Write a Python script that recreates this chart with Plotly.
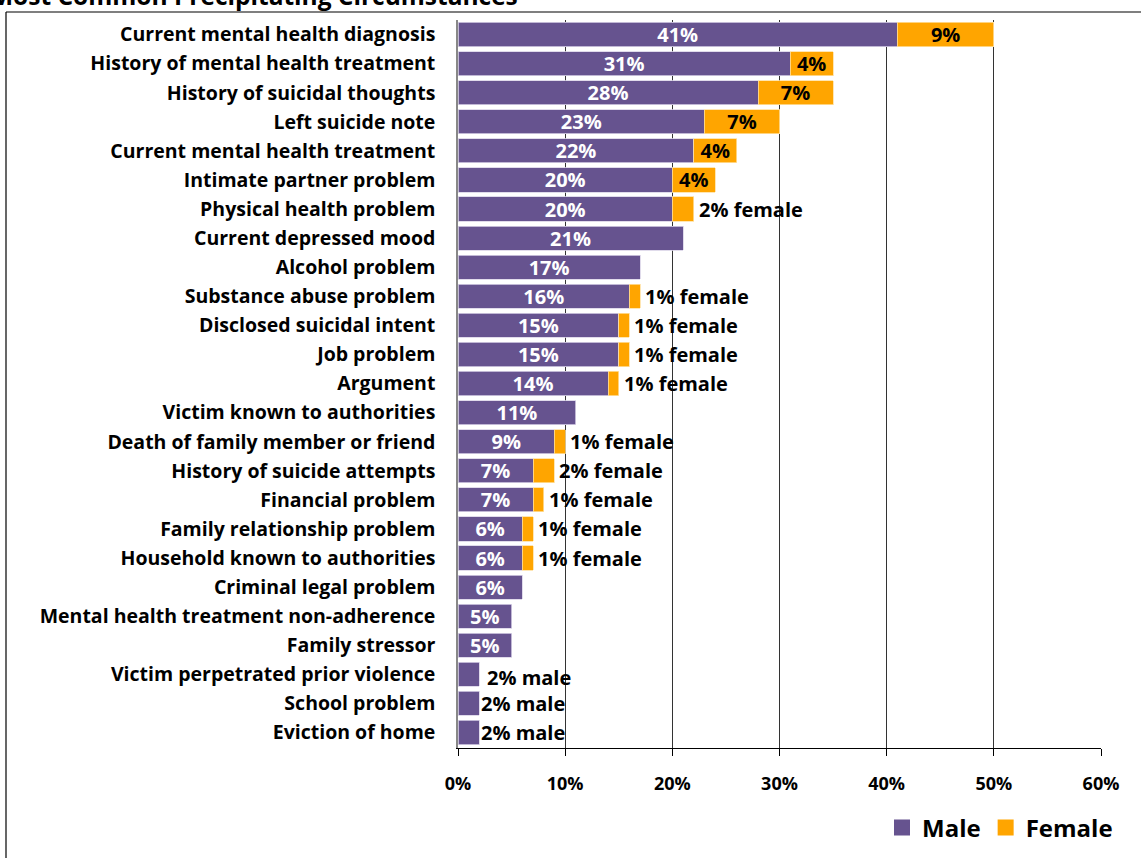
import plotly.graph_objects as go

categories = [
    "Current mental health diagnosis", "History of mental health treatment",
    "History of suicidal thoughts", "Left suicide note",
    "Current mental health treatment", "Intimate partner problem",
    "Physical health problem", "Current depressed mood", "Alcohol problem",
    "Substance abuse problem", "Disclosed suicidal intent", "Job problem",
    "Argument", "Victim known to authorities",
    "Death of family member or friend", "History of suicide attempts",
    "Financial problem", "Family relationship problem",
    "Household known to authorities", "Criminal legal problem",
    "Mental health treatment non-adherence", "Family stressor",
    "Victim perpetrated prior violence", "School problem", "Eviction of home",
]
male = [41, 31, 28, 23, 22, 20, 20, 21, 17, 16, 15, 15, 14, 11, 9, 7, 7, 6, 6, 6, 5, 5, 2, 2, 2]
female = [9, 4, 7, 7, 4, 4, 2, 0, 0, 1, 1, 1, 1, 0, 1, 2, 1, 1, 1, 0, 0, 0, 0, 0, 0]
# label mode: inside label for female segment, or outside "x% female"
female_inside = [True, True, True, True, True, True] + [False] * 19
male_outside = [False] * 22 + [True] * 3
x_ticks = [0, 10, 20, 30, 40, 50, 60]
title_text = "Most Common Precipitating Circumstances"

W, H = 1141, 858
L, R, T, B = 458, 40, 20, 110
pw, ph = W - L - R, H - T - B

PURPLE = "#66538f"
ORANGE = "#ffa500"
FONT = "Open Sans"

male_text = ["" if mo else f"{v}%" for v, mo in zip(male, male_outside)]
female_text = [f"{v}%" if fi and v > 0 else "" for v, fi in zip(female, female_inside)]

fig = go.Figure()
fig.add_trace(go.Bar(
    y=categories, x=male, orientation="h", name="Male", showlegend=False,
    marker=dict(color=PURPLE, line=dict(width=0.8, color="#d8d2e6")),
    text=male_text, textposition="inside", insidetextanchor="middle",
    constraintext="none",
    textfont=dict(color="white", size=20, family=FONT, weight="bold"),
    textangle=0, hoverinfo="skip",
))
fig.add_trace(go.Bar(
    y=categories, x=[v if v > 0 else None for v in female], orientation="h",
    name="Female", showlegend=False,
    marker=dict(color=ORANGE, line=dict(width=0.8, color="#ffe0a0")),
    text=female_text, textposition="inside", insidetextanchor="middle",
    constraintext="none",
    textfont=dict(color="black", size=20, family=FONT, weight="bold"),
    textangle=0, hoverinfo="skip",
))
# legend entries with larger square swatches
for name, col in (("Male", PURPLE), ("Female", ORANGE)):
    fig.add_trace(go.Scatter(
        x=[None], y=[None], mode="markers", name=name,
        marker=dict(symbol="square", size=17, color=col), hoverinfo="skip",
    ))

annotations = []
for i, (c, m, f, fi, mo) in enumerate(zip(categories, male, female, female_inside, male_outside)):
    if mo:
        first = i == male_outside.index(True)
        annotations.append(dict(x=m, y=c, xref="x", yref="y", text=f"{m}% male",
                                showarrow=False, xanchor="left",
                                xshift=6 if first else 0, yshift=-3 if first else 0,
                                font=dict(size=20, color="black", family=FONT, weight="bold")))
    elif f > 0 and not fi:
        annotations.append(dict(x=m + f, y=c, xref="x", yref="y", text=f"{f}% female",
                                showarrow=False, xanchor="left", xshift=3,
                                font=dict(size=20, color="black", family=FONT, weight="bold")))

# title (cut at top of the image, as in the reference)
annotations.append(dict(x=(-12 - L) / pw, y=(H - B + 4) / ph, xref="paper", yref="paper",
                        text=title_text, showarrow=False,
                        xanchor="left", yanchor="middle",
                        font=dict(size=24.5, color="black", family=FONT, weight="bold")))

shapes = [
    dict(type="line", xref="paper", yref="paper",
         x0=(6 - L) / pw, x1=(W + 5 - L) / pw, y0=(H - B - 12) / ph, y1=(H - B - 12) / ph,
         line=dict(color="black", width=1.2)),
    dict(type="line", xref="paper", yref="paper",
         x0=(6 - L) / pw, x1=(6 - L) / pw, y0=(H - B - 12) / ph, y1=(-B - 5) / ph,
         line=dict(color="black", width=1.2)),
]

fig.update_layout(
    width=W, height=H,
    margin=dict(l=L, r=R, t=T, b=B, autoexpand=False),
    barmode="stack", bargap=0.17,
    plot_bgcolor="white", paper_bgcolor="white",
    font=dict(family=FONT, color="black"),
    annotations=annotations, shapes=shapes,
    legend=dict(orientation="h", x=(1118 - L) / pw, xanchor="right",
                y=(H - B - 828) / ph, yanchor="middle",
                font=dict(size=24, family=FONT, weight="bold", color="black"),
                itemsizing="trace", bgcolor="rgba(0,0,0,0)", traceorder="normal",
                itemwidth=30, entrywidth=0),
    xaxis=dict(range=[0, 60], tickvals=x_ticks, ticktext=[f"{v}%" for v in x_ticks],
               showgrid=True, gridcolor="#333333", gridwidth=1, zeroline=False,
               showline=True, linecolor="black", linewidth=1.3,
               ticks="outside", ticklen=7, tickcolor="black",
               tickfont=dict(size=18, family=FONT, weight="bold"),
               ticklabelstandoff=12, fixedrange=True),
    yaxis=dict(autorange="reversed", showline=True, linecolor="#888888", linewidth=1.5,
               ticks="", tickfont=dict(size=19.5, family=FONT, weight="bold"),
               ticklabelstandoff=17, showgrid=False, fixedrange=True),
)

fig.write_html("out.html", config={"displayModeBar": False},
               post_script="document.body.style.margin='0';")
